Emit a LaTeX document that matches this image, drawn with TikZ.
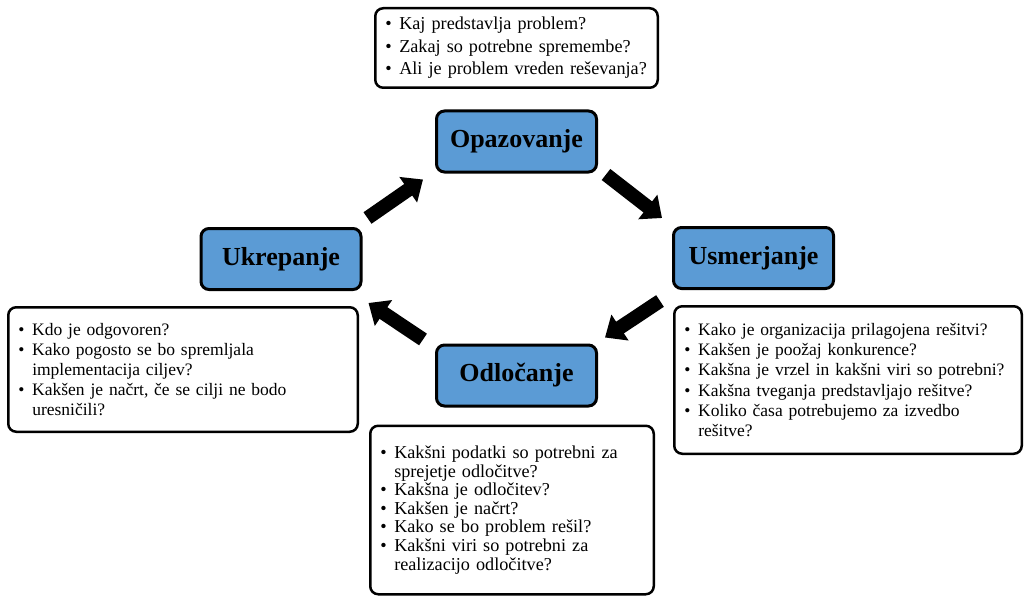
\documentclass[tikz,border=0pt]{standalone}
\usepackage{fontspec}
\setmainfont{Liberation Serif}
\usetikzlibrary{arrows.meta,calc}
\definecolor{stageblue}{HTML}{5B9BD5}
% one bulleted question, and a continuation line aligned with its text
\newcommand{\qitem}[1]{\makebox[14pt][l]{\textbullet}\mbox{#1}}
\newcommand{\qcont}[1]{\hspace*{14pt}\mbox{#1}}

\begin{document}
\begin{tikzpicture}[x=1pt,y=-1pt,
  stage/.style={draw=black, line width=3pt, fill=stageblue, rounded corners=8pt,
    minimum width=160pt, minimum height=61pt, inner sep=0pt,
    font=\fontsize{26}{30}\selectfont\bfseries},
  qbox/.style={draw=black, line width=2.5pt, fill=white, rounded corners=8pt,
    inner xsep=10pt, inner ysep=0pt, align=left},
  flow/.style={line width=14pt, -{Triangle[length=18pt,width=30pt]}}
]
\useasboundingbox (0,0) rectangle (1028,599);

% the four stages of the cycle
\node[stage] (O) at (516.5,141.5) {Opazovanje};
\node[stage] (S) at (753.5,258) {Usmerjanje};
\node[stage] (U) at (281,259) {Ukrepanje};
\node[stage] (D) at (516.5,375.5) {Odločanje};

% questions belonging to each stage
\node[qbox, minimum width=282.5pt, minimum height=79.5pt, text width=262.5pt,
  font=\fontsize{18.2}{22.5}\selectfont] (qO) at (516.5,48) {%
  \qitem{Kaj predstavlja problem?}\\
  \qitem{Zakaj so potrebne spremembe?}\\
  \qitem{Ali je problem vreden reševanja?}};

\node[qbox, minimum width=347.5pt, minimum height=147.5pt, text width=327.5pt,
  font=\fontsize{17.5}{20.2}\selectfont] (qS) at (848,380) {%
  \qitem{Kako je organizacija prilagojena rešitvi?}\\
  \qitem{Kakšen je poožaj konkurence?}\\
  \qitem{Kakšna je vrzel in kakšni viri so potrebni?}\\
  \qitem{Kakšna tveganja predstavljajo rešitve?}\\
  \qitem{Koliko časa potrebujemo za izvedbo}\\
  \qcont{rešitve?}};

\node[qbox, minimum width=349.5pt, minimum height=124.5pt, text width=329.5pt,
  font=\fontsize{17.5}{20.2}\selectfont] (qU) at (183,369.5) {%
  \qitem{Kdo je odgovoren?}\\
  \qitem{Kako pogosto se bo spremljala}\\
  \qcont{implementacija ciljev?}\\
  \qitem{Kakšen je načrt, če se cilji ne bodo}\\
  \qcont{uresničili?}};

\node[qbox, minimum width=283.5pt, minimum height=168.5pt, text width=263.5pt,
  font=\fontsize{18.2}{18.6}\selectfont] (qD) at (512,510) {%
  \qitem{Kakšni podatki so potrebni za}\\
  \qcont{sprejetje odločitve?}\\
  \qitem{Kakšna je odločitev?}\\
  \qitem{Kakšen je načrt?}\\
  \qitem{Kako se bo problem rešil?}\\
  \qitem{Kakšni viri so potrebni za}\\
  \qcont{realizacijo odločitve?}};

% block arrows running clockwise between the stages
\draw[flow] ($(U.north east)+(5,-9)$) -- ($(O.south west)+(-12,6)$);
\draw[flow] ($(O.south east)+(8,1)$) -- ($(S.north west)+(-10,-8)$);
\draw[flow] ($(S.south west)+(-12,11)$) -- ($(D.north east)+(7,-6)$);
\draw[flow] ($(D.north west)+(-12,-4)$) -- ($(U.south east)+(6,12)$);
\end{tikzpicture}
\end{document}
